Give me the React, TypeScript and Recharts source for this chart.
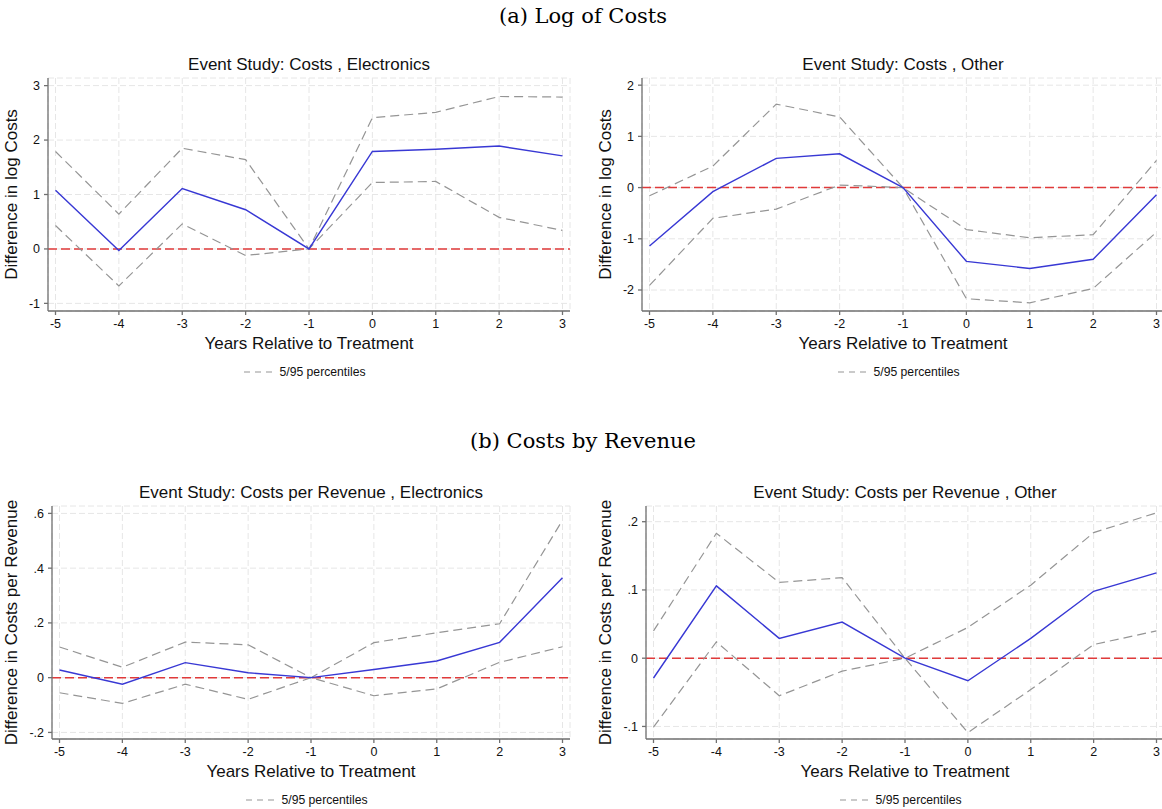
import React from 'react';
import { LineChart, Line, XAxis, YAxis, CartesianGrid, ReferenceLine, Legend } from 'recharts';

// event time (years relative to treatment)
const years = [-5, -4, -3, -2, -1, 0, 1, 2, 3];

// (a) log of costs, electronics
const costsElecEst = [1.08, -0.03, 1.11, 0.72, 0, 1.79, 1.83, 1.89, 1.71];
const costsElecHi = [1.79, 0.64, 1.85, 1.64, 0, 2.41, 2.51, 2.8, 2.79];
const costsElecLo = [0.43, -0.68, 0.46, -0.12, 0, 1.22, 1.24, 0.58, 0.34];

// (a) log of costs, other
const costsOtherEst = [-1.14, -0.08, 0.57, 0.66, 0, -1.44, -1.58, -1.4, -0.14];
const costsOtherHi = [-0.16, 0.42, 1.63, 1.38, 0, -0.82, -0.98, -0.92, 0.53];
const costsOtherLo = [-1.91, -0.6, -0.42, 0.05, 0, -2.17, -2.25, -1.97, -0.87];

// (b) costs per revenue, electronics
const cprElecEst = [0.028, -0.024, 0.055, 0.018, 0, 0.03, 0.061, 0.129, 0.365];
const cprElecHi = [0.112, 0.038, 0.13, 0.12, 0, 0.128, 0.164, 0.197, 0.575];
const cprElecLo = [-0.055, -0.094, -0.024, -0.079, 0, -0.066, -0.041, 0.056, 0.113];

// (b) costs per revenue, other
const cprOtherEst = [-0.029, 0.106, 0.029, 0.053, 0, -0.033, 0.029, 0.098, 0.125];
const cprOtherHi = [0.04, 0.183, 0.111, 0.118, 0, 0.045, 0.107, 0.184, 0.213];
const cprOtherLo = [-0.101, 0.024, -0.055, -0.019, 0, -0.109, -0.046, 0.02, 0.04];

// y tick values
const logCostsElecTicks = [-1, 0, 1, 2, 3];
const logCostsOtherTicks = [-2, -1, 0, 1, 2];
const cprElecTicks = [-0.2, 0, 0.2, 0.4, 0.6];
const cprOtherTicks = [-0.1, 0, 0.1, 0.2];

const SANS = '"Liberation Sans", Arial, Helvetica, sans-serif';
const SERIF = '"DejaVu Serif", "Liberation Serif", serif';
const BLUE = '#3838d4';
const GRAY = '#959595';
const RED = '#e03a3a';
const AXIS = '#707070';
const INK = '#111';

const CHART_W = 580;
const CHART_H = 335;
const MARGIN = { top: 28, right: 10, bottom: 5, left: 0 };

// stata-style labels: .2, -.1, 0
const stataFmt = (v: number) => {
  if (v === 0) return '0';
  const s = String(Math.round(v * 100) / 100);
  return s.replace(/^(-?)0\./, '$1.');
};

const buildRows = (est: number[], hi: number[], lo: number[]) =>
  years.map((x, i) => ({ x, est: est[i], hi: hi[i], lo: lo[i] }));

const renderLegend = () => (
  <div
    style={{
      display: 'flex',
      justifyContent: 'center',
      alignItems: 'center',
      height: 16,
      fontFamily: SANS,
      fontSize: 12.2,
      color: INK,
    }}
  >
    <svg width={28} height={6}>
      <line x1={0} y1={3} x2={28} y2={3} stroke={GRAY} strokeWidth={1.2} strokeDasharray="6 5" />
    </svg>
    <span style={{ marginLeft: 7 }}>5/95 percentiles</span>
  </div>
);

type PanelProps = {
  left: number;
  top: number;
  yWidth: number;
  title: string;
  yLabel: string;
  est: number[];
  hi: number[];
  lo: number[];
  yDomain: [number, number];
  yTicks: number[];
};

function Panel({ left, top, yWidth, title, yLabel, est, hi, lo, yDomain, yTicks }: PanelProps) {
  const rows = buildRows(est, hi, lo);
  const plotW = CHART_W - yWidth - MARGIN.right;
  return (
    <div style={{ position: 'absolute', left, top, width: CHART_W, height: CHART_H }}>
      <div
        style={{
          position: 'absolute',
          left: yWidth,
          width: plotW,
          top: 5,
          lineHeight: '20px',
          textAlign: 'center',
          fontFamily: SANS,
          fontSize: 17,
          color: INK,
          zIndex: 2,
        }}
      >
        {title}
      </div>
      <LineChart width={CHART_W} height={CHART_H} data={rows} margin={MARGIN}>
        <CartesianGrid stroke="#e6e6e6" strokeDasharray="6 3" />
        <XAxis
          dataKey="x"
          type="number"
          domain={[-5, 3]}
          ticks={years}
          interval={0}
          padding={{ left: 7.5, right: 7.5 }}
          height={53}
          tickSize={4}
          tickMargin={4}
          stroke={AXIS}
          strokeWidth={1.3}
          tick={{ fontSize: 12.5, fill: INK, fontFamily: SANS }}
          label={{
            value: 'Years Relative to Treatment',
            position: 'insideBottom',
            offset: 15,
            fontSize: 17,
            fill: INK,
            fontFamily: SANS,
          }}
        />
        <YAxis
          type="number"
          domain={yDomain}
          allowDataOverflow
          ticks={yTicks}
          interval={0}
          tickFormatter={stataFmt}
          width={yWidth}
          tickSize={4}
          tickMargin={4}
          stroke={AXIS}
          strokeWidth={1.3}
          tick={{ fontSize: 12.5, fill: INK, fontFamily: SANS }}
          label={{
            value: yLabel,
            angle: -90,
            position: 'insideLeft',
            offset: 11,
            fontSize: 17,
            fill: INK,
            fontFamily: SANS,
            style: { textAnchor: 'middle' },
          }}
        />
        <ReferenceLine y={0} stroke={RED} strokeWidth={1.5} strokeDasharray="9 4" />
        <Line dataKey="hi" stroke={GRAY} strokeWidth={1.2} strokeDasharray="9 5" dot={false} activeDot={false} isAnimationActive={false} />
        <Line dataKey="lo" stroke={GRAY} strokeWidth={1.2} strokeDasharray="9 5" dot={false} activeDot={false} isAnimationActive={false} />
        <Line dataKey="est" stroke={BLUE} strokeWidth={1.4} dot={false} activeDot={false} isAnimationActive={false} />
        <Legend
          verticalAlign="bottom"
          content={renderLegend}
          wrapperStyle={{ left: yWidth - 4, width: plotW }}
        />
      </LineChart>
    </div>
  );
}

const captionStyle: React.CSSProperties = {
  position: 'absolute',
  left: 0,
  width: 1166,
  textAlign: 'center',
  fontFamily: SERIF,
  fontSize: 21,
  lineHeight: '30px',
  color: '#000',
};

export default function App() {
  return (
    <div style={{ position: 'fixed', inset: 0, background: '#fff', overflow: 'hidden' }}>
      <div style={{ ...captionStyle, top: 1 }}>(a) Log of Costs</div>
      <div style={{ ...captionStyle, top: 426 }}>(b) Costs by Revenue</div>

      <Panel
        left={0}
        top={50}
        yWidth={48}
        title="Event Study: Costs , Electronics"
        yLabel="Difference in log Costs"
        est={costsElecEst}
        hi={costsElecHi}
        lo={costsElecLo}
        yDomain={[-1.14, 3.14]}
        yTicks={logCostsElecTicks}
      />
      <Panel
        left={594}
        top={50}
        yWidth={48}
        title="Event Study: Costs , Other"
        yLabel="Difference in log Costs"
        est={costsOtherEst}
        hi={costsOtherHi}
        lo={costsOtherLo}
        yDomain={[-2.41, 2.14]}
        yTicks={logCostsOtherTicks}
      />
      <Panel
        left={0}
        top={478}
        yWidth={52}
        title="Event Study: Costs per Revenue , Electronics"
        yLabel="Difference in Costs per Revenue"
        est={cprElecEst}
        hi={cprElecHi}
        lo={cprElecLo}
        yDomain={[-0.224, 0.627]}
        yTicks={cprElecTicks}
      />
      <Panel
        left={594}
        top={478}
        yWidth={52}
        title="Event Study: Costs per Revenue , Other"
        yLabel="Difference in Costs per Revenue"
        est={cprOtherEst}
        hi={cprOtherHi}
        lo={cprOtherLo}
        yDomain={[-0.1184, 0.223]}
        yTicks={cprOtherTicks}
      />
    </div>
  );
}
